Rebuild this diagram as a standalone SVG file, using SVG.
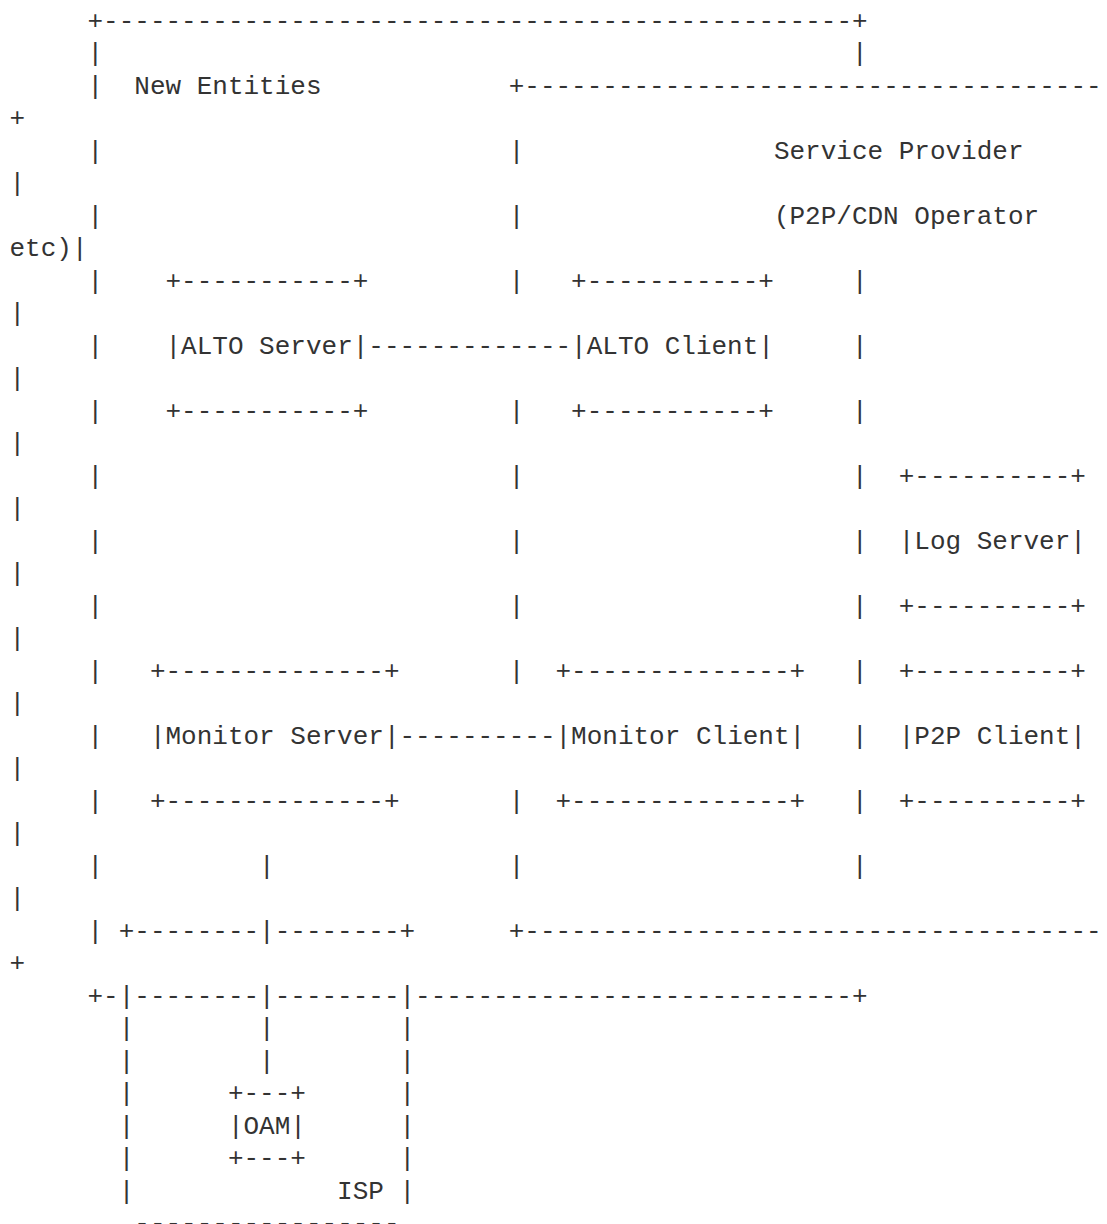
<svg xmlns="http://www.w3.org/2000/svg" width="1107" height="1224" viewBox="0 0 1107 1224">
<style>
text{font-family:"Liberation Mono","DejaVu Sans Mono",monospace;font-size:26px;fill:#333;white-space:pre}
</style>
<rect width="1107" height="1224" fill="#fff"/>
<g transform="translate(9.5,28.8)">
<g id="new-entities">
<text x="78" y="0">+------------------------------------------------+</text>
<text x="78" y="32.5">|</text><text x="842.4" y="32.5">|</text>
<text x="78" y="65">|</text><text x="124.8" y="65">New Entities</text>
<text x="78" y="130">|</text>
<text x="78" y="195">|</text>
<text x="78" y="260">|</text><text x="842.4" y="260">|</text>
<text x="78" y="325">|</text><text x="842.4" y="325">|</text>
<text x="78" y="390">|</text><text x="842.4" y="390">|</text>
<text x="78" y="455">|</text><text x="842.4" y="455">|</text>
<text x="78" y="520">|</text><text x="842.4" y="520">|</text>
<text x="78" y="585">|</text><text x="842.4" y="585">|</text>
<text x="78" y="650">|</text><text x="842.4" y="650">|</text>
<text x="78" y="715">|</text><text x="842.4" y="715">|</text>
<text x="78" y="780">|</text><text x="842.4" y="780">|</text>
<text x="78" y="845">|</text><text x="842.4" y="845">|</text>
<text x="78" y="910">|</text>
<text x="78" y="975">+-</text><text x="124.8" y="975">--------</text><text x="265.2" y="975">--------</text><text x="405.6" y="975">----------------------------+</text>
</g>
<g id="service-provider">
<text x="499.2" y="65">+-------------------------------------</text>
<text x="0" y="97.5">+</text>
<text x="499.2" y="130">|</text><text x="764.4" y="130">Service Provider</text>
<text x="0" y="162.5">|</text>
<text x="499.2" y="195">|</text><text x="764.4" y="195">(P2P/CDN Operator</text>
<text x="0" y="227.5">etc)|</text>
<text x="499.2" y="260">|</text>
<text x="0" y="292.5">|</text>
<text x="0" y="357.5">|</text>
<text x="499.2" y="390">|</text>
<text x="0" y="422.5">|</text>
<text x="499.2" y="455">|</text>
<text x="0" y="487.5">|</text>
<text x="499.2" y="520">|</text>
<text x="0" y="552.5">|</text>
<text x="499.2" y="585">|</text>
<text x="0" y="617.5">|</text>
<text x="499.2" y="650">|</text>
<text x="0" y="682.5">|</text>
<text x="0" y="747.5">|</text>
<text x="499.2" y="780">|</text>
<text x="0" y="812.5">|</text>
<text x="499.2" y="845">|</text>
<text x="0" y="877.5">|</text>
<text x="499.2" y="910">+-------------------------------------</text>
<text x="0" y="942.5">+</text>
</g>
<g id="alto-server">
<text x="156" y="260">+-----------+</text>
<text x="156" y="325">|ALTO Server|</text>
<text x="156" y="390">+-----------+</text>
</g>
<g id="alto-client">
<text x="561.6" y="260">+-----------+</text>
<text x="561.6" y="325">|ALTO Client|</text>
<text x="561.6" y="390">+-----------+</text>
</g>
<g id="log-server">
<text x="889.2" y="455">+----------+</text>
<text x="889.2" y="520">|Log Server|</text>
<text x="889.2" y="585">+----------+</text>
</g>
<g id="monitor-server">
<text x="140.4" y="650">+--------------+</text>
<text x="140.4" y="715">|Monitor Server|</text>
<text x="140.4" y="780">+--------------+</text>
</g>
<g id="monitor-client">
<text x="546" y="650">+--------------+</text>
<text x="546" y="715">|Monitor Client|</text>
<text x="546" y="780">+--------------+</text>
</g>
<g id="p2p-client">
<text x="889.2" y="650">+----------+</text>
<text x="889.2" y="715">|P2P Client|</text>
<text x="889.2" y="780">+----------+</text>
</g>
<g id="isp">
<text x="109.2" y="910">+--------</text><text x="265.2" y="910">--------+</text>
<text x="109.2" y="975">|</text><text x="390" y="975">|</text>
<text x="109.2" y="1007.5">|</text><text x="390" y="1007.5">|</text>
<text x="109.2" y="1040">|</text><text x="390" y="1040">|</text>
<text x="109.2" y="1072.5">|</text><text x="390" y="1072.5">|</text>
<text x="109.2" y="1105">|</text><text x="390" y="1105">|</text>
<text x="109.2" y="1137.5">|</text><text x="390" y="1137.5">|</text>
<text x="109.2" y="1170">|</text><text x="327.6" y="1170">ISP</text><text x="390" y="1170">|</text>
<text x="124.8" y="1202.5">-----------------</text>
</g>
<g id="oam">
<text x="218.4" y="1072.5">+---+</text>
<text x="218.4" y="1105">|OAM|</text>
<text x="218.4" y="1137.5">+---+</text>
</g>
<g id="connectors">
<text x="358.8" y="325">-------------</text>
<text x="390" y="715">----------</text>
<text x="249.6" y="845">|</text>
<text x="249.6" y="910">|</text>
<text x="249.6" y="975">|</text>
<text x="249.6" y="1007.5">|</text>
<text x="249.6" y="1040">|</text>
</g>
</g>
</svg>
